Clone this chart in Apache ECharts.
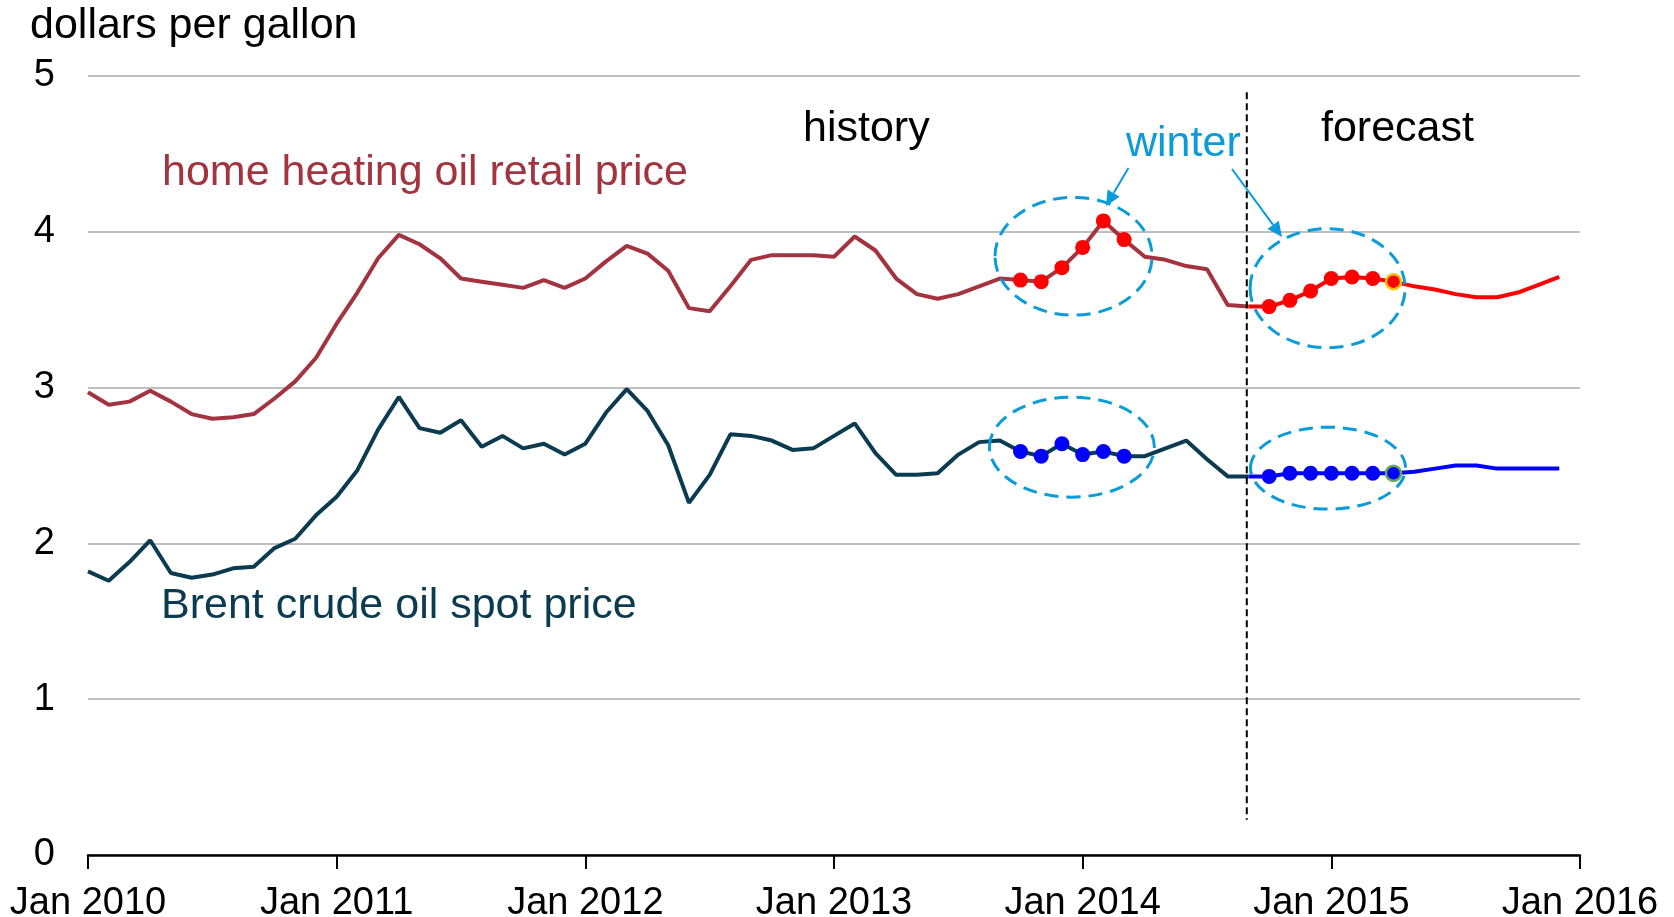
<!DOCTYPE html>
<html>
<head>
<meta charset="utf-8">
<script src="https://cdn.jsdelivr.net/npm/echarts@6/dist/echarts.min.js"></script>
<style>
html,body{margin:0;padding:0;background:#ffffff;}
#c{width:1674px;height:917px;}
</style>
</head>
<body>
<div id="c"></div>
<script>
// ---------- data ----------
const monthNames = ['Jan','Feb','Mar','Apr','May','Jun','Jul','Aug','Sep','Oct','Nov','Dec'];
const years = [2010, 2011, 2012, 2013, 2014, 2015];
const months = [];
years.forEach(y => monthNames.forEach(m => months.push(m + ' ' + y)));
months.push('Jan 2016');

const yTicks = [0, 1, 2, 3, 4, 5];

// Jan 2010 - Sep 2014
const heatingOilHistory = [
  2.97, 2.89, 2.91, 2.98, 2.91, 2.83, 2.80, 2.81, 2.83, 2.93, 3.04, 3.19,
  3.41, 3.61, 3.83, 3.98, 3.92, 3.83, 3.70, 3.68, 3.66, 3.64, 3.69, 3.64,
  3.70, 3.81, 3.91, 3.86, 3.75, 3.51, 3.49, 3.65, 3.82, 3.85, 3.85, 3.85,
  3.84, 3.97, 3.88, 3.70, 3.60, 3.57, 3.60, 3.65, 3.70, 3.69, 3.68, 3.77,
  3.90, 4.07, 3.95, 3.84, 3.82, 3.78, 3.76, 3.53, 3.52
];
// Sep 2014 - Dec 2015
const heatingOilForecast = [
  3.52, 3.52, 3.56, 3.62,
  3.70, 3.71, 3.70, 3.68, 3.65, 3.63, 3.60, 3.58, 3.58, 3.61, 3.66, 3.71
];
// Jan 2010 - Sep 2014
const brentHistory = [
  1.82, 1.76, 1.88, 2.02, 1.81, 1.78, 1.80, 1.84, 1.85, 1.97, 2.03, 2.18,
  2.30, 2.47, 2.73, 2.94, 2.74, 2.71, 2.79, 2.62, 2.69, 2.61, 2.64, 2.57,
  2.64, 2.84, 2.99, 2.85, 2.63, 2.26, 2.44, 2.70, 2.69, 2.66, 2.60, 2.61,
  2.69, 2.77, 2.58, 2.44, 2.44, 2.45, 2.57, 2.65, 2.66, 2.59, 2.56, 2.64,
  2.57, 2.59, 2.56, 2.56, 2.61, 2.66, 2.54, 2.43, 2.43
];
// Sep 2014 - Dec 2015
const brentForecast = [
  2.43, 2.43, 2.45, 2.45,
  2.45, 2.45, 2.45, 2.45, 2.46, 2.48, 2.50, 2.50, 2.48, 2.48, 2.48, 2.48
];
const forecastStart = 'Sep 2014';
const winterHistory = ['Oct 2013','Nov 2013','Dec 2013','Jan 2014','Feb 2014','Mar 2014'];
const winterForecast = ['Oct 2014','Nov 2014','Dec 2014','Jan 2015','Feb 2015','Mar 2015','Apr 2015'];

// ---------- build series data ----------
const fStart = months.indexOf(forecastStart);
function padHistory(arr) { return months.map((m, i) => i < arr.length ? arr[i] : null); }
function padForecast(arr) { return months.map((m, i) => (i >= fStart && i - fStart < arr.length) ? arr[i - fStart] : null); }
const hoFull = months.map((m, i) => i < fStart ? heatingOilHistory[i] : heatingOilForecast[i - fStart]);
const brFull = months.map((m, i) => i < fStart ? brentHistory[i] : brentForecast[i - fStart]);
function markers(list, full, lastBorder) {
  return list.map((m, k) => {
    const item = { value: [m, full[months.indexOf(m)]] };
    if (lastBorder && k === list.length - 1) item.itemStyle = { borderColor: lastBorder, borderWidth: 2.5 };
    return item;
  });
}

const FONT = '"Liberation Sans", Arial, Helvetica, sans-serif';
const C_HO = '#A3343F';
const C_BR = '#0B3B50';
const C_RED = '#FF0000';
const C_BLUE = '#0000FF';
const C_ANN = '#0A9BD8';

const chart = echarts.init(document.getElementById('c'), null, { renderer: 'canvas' });

chart.setOption({
  animation: false,
  backgroundColor: '#ffffff',
  grid: { left: 88, right: 94, top: 76, bottom: 62, containLabel: false, outerBoundsMode: 'none' },
  xAxis: {
    type: 'category',
    data: months,
    boundaryGap: false,
    axisLine: { show: true, lineStyle: { color: '#000000', width: 2.5 } },
    axisTick: { show: true, interval: 11, length: 14, lineStyle: { color: '#000000', width: 2 } },
    axisLabel: { show: true, interval: 11, margin: 30, fontFamily: FONT, fontSize: 38, color: '#000000' },
    splitLine: { show: false }
  },
  yAxis: {
    type: 'value',
    min: yTicks[0],
    max: yTicks[yTicks.length - 1],
    interval: 1,
    axisLine: { show: false },
    axisTick: { show: false },
    axisLabel: { margin: 33, fontFamily: FONT, fontSize: 38, color: '#000000', padding: [4, 0, 0, 0] },
    splitLine: { show: true, lineStyle: { color: '#BFBFBF', width: 2 } }
  },
  series: [
    { name: 'home heating oil retail price', type: 'line', data: padHistory(heatingOilHistory),
      symbol: 'none', lineStyle: { color: C_HO, width: 4 }, itemStyle: { color: C_HO }, z: 3 },
    { name: 'home heating oil forecast', type: 'line', data: padForecast(heatingOilForecast),
      symbol: 'none', lineStyle: { color: C_RED, width: 4 }, itemStyle: { color: C_RED }, z: 3 },
    { name: 'Brent crude oil spot price', type: 'line', data: padHistory(brentHistory),
      symbol: 'none', lineStyle: { color: C_BR, width: 4 }, itemStyle: { color: C_BR }, z: 3 },
    { name: 'Brent forecast', type: 'line', data: padForecast(brentForecast),
      symbol: 'none', lineStyle: { color: C_BLUE, width: 4 }, itemStyle: { color: C_BLUE }, z: 3 },
    { name: 'heating oil winter', type: 'scatter', symbol: 'circle', symbolSize: 15,
      data: markers(winterHistory, hoFull).concat(markers(winterForecast, hoFull, '#FFC000')),
      itemStyle: { color: C_RED, opacity: 1 }, z: 4 },
    { name: 'Brent winter', type: 'scatter', symbol: 'circle', symbolSize: 15,
      data: markers(winterHistory, brFull).concat(markers(winterForecast, brFull, '#6AA84F')),
      itemStyle: { color: C_BLUE, opacity: 1 }, z: 4 }
  ]
});

// ---------- annotations ----------
function toPx(idx, val) {
  const a = chart.convertToPixel({ gridIndex: 0 }, [0, 0]);
  const b = chart.convertToPixel({ gridIndex: 0 }, [months.length - 1, 5]);
  return [a[0] + (b[0] - a[0]) * idx / (months.length - 1), a[1] + (b[1] - a[1]) * val / 5];
}
const a0 = toPx(0, 0), a1 = toPx(1, 1);
const pxPerMonth = a1[0] - a0[0], pxPerUnit = a0[1] - a1[1];

// ellipses around winter months, in data units (month index, value)
const ellipses = [
  { idx: 47.56, val: 3.843, rx: 3.79, ry: 0.378 },
  { idx: 59.82, val: 3.638, rx: 3.74, ry: 0.382 },
  { idx: 47.48, val: 2.618, rx: 3.98, ry: 0.321 },
  { idx: 59.84, val: 2.483, rx: 3.74, ry: 0.263 }
];
const graphics = [];
ellipses.forEach(e => {
  const c = toPx(e.idx, e.val);
  graphics.push({ type: 'ellipse', z: 100,
    shape: { cx: c[0], cy: c[1], rx: e.rx * pxPerMonth, ry: e.ry * pxPerUnit },
    style: { fill: null, stroke: C_ANN, lineWidth: 3, lineDash: [14, 8] } });
});

// history / forecast divider
const divTop = toPx(55.92, 4.895), divBot = toPx(55.92, 0.226);
graphics.push({ type: 'line', z: 100,
  shape: { x1: divTop[0], y1: divTop[1], x2: divBot[0], y2: divBot[1] },
  style: { stroke: '#000000', lineWidth: 2, lineDash: [7, 4] } });

function arrow(x1, y1, x2, y2) {
  const dx = x2 - x1, dy = y2 - y1, L = Math.hypot(dx, dy), ux = dx / L, uy = dy / L;
  const hl = 15, hw = 7;
  const bx = x2 - ux * hl, by = y2 - uy * hl;
  graphics.push({ type: 'line', z: 100, shape: { x1: x1, y1: y1, x2: bx, y2: by },
    style: { stroke: C_ANN, lineWidth: 2 } });
  graphics.push({ type: 'polygon', z: 100,
    shape: { points: [[x2, y2], [bx - uy * hw, by + ux * hw], [bx + uy * hw, by - ux * hw]] },
    style: { fill: C_ANN } });
}
arrow(1128.5, 168, 1106, 206);
arrow(1232, 169, 1282, 237);

function label(text, x, y, color) {
  graphics.push({ type: 'text', z: 100, x: x, y: y,
    style: { text: text, font: '43px ' + FONT, fill: color, align: 'left', verticalAlign: 'middle' } });
}
label('dollars per gallon', 30, 26, '#000000');
label('home heating oil retail price', 162, 173, C_HO);
label('Brent crude oil spot price', 161, 606, C_BR);
label('history', 803, 129, '#000000');
label('forecast', 1321, 129, '#000000');
label('winter', 1126, 144, C_ANN);

chart.setOption({ graphic: { elements: graphics } });
</script>
</body>
</html>
